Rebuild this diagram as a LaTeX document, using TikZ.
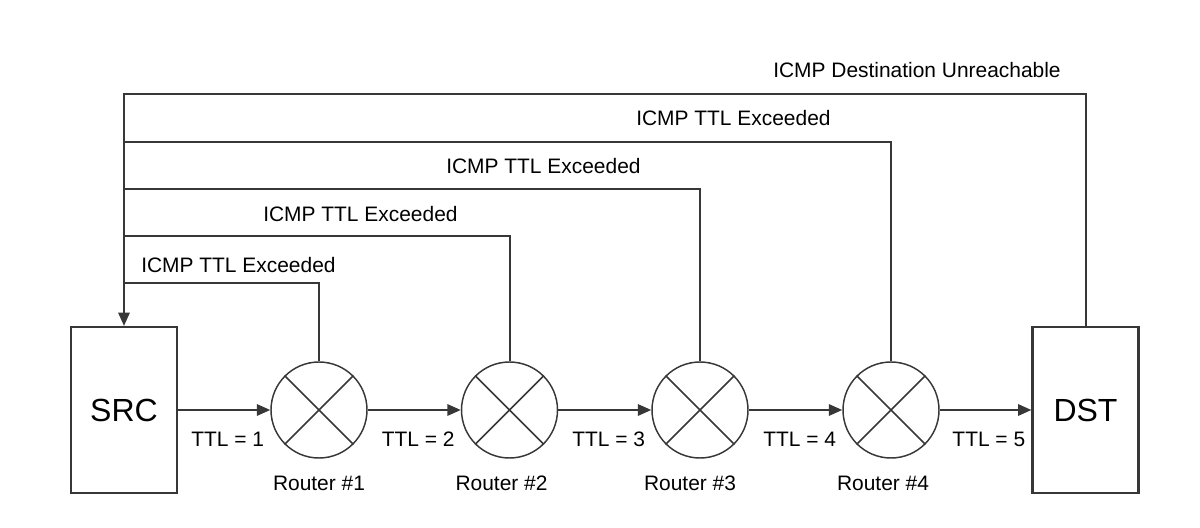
\documentclass[tikz,border=0pt]{standalone}
\usepackage{fontspec}
\setmainfont{Liberation Sans}
\usetikzlibrary{arrows.meta,calc,positioning}
\definecolor{linegray}{RGB}{55,55,55}
\tikzset{
  host/.style={draw=linegray, line width=1.6pt, minimum width=79.5pt, minimum height=124.5pt, inner sep=0pt, font=\fontsize{24}{28}\selectfont},
  router/.style={draw=linegray, circle, line width=1.1pt, minimum size=72pt, inner sep=0pt},
  hop/.style={draw=linegray, line width=1.5pt, -{Triangle[length=10pt,width=8.5pt]}},
  reply/.style={draw=linegray, line width=1.5pt},
  lbl/.style={font=\fontsize{15.7}{18}\selectfont, inner sep=0pt},
}

\begin{document}
\begin{tikzpicture}[x=0.75pt,y=0.75pt,yscale=-1]
\useasboundingbox (0,0) rectangle (1200,528);

%Shape: hosts
\node[host] (src) at (124,410) {SRC};
\node[host] (dst) at (1085.5,410) {DST};

%Shape: routers
\foreach \i/\x/\dx in {1/319/0,2/509.5/-8,3/700/-10,4/891/-8}{
  \node[router] (r\i) at (\x,410) {};
  \draw[linegray, line width=1.1pt] (r\i.45) -- (r\i.225) (r\i.135) -- (r\i.315);
  % Text Node
  \node[lbl, anchor=base] at ($(r\i.south)+(\dx,32)$) {Router \#\i};
  % Text Node
  \node[lbl, anchor=base east] at ($(r\i.west)+(-6,36)$) {TTL = \i};
}
% Text Node
\node[lbl, anchor=base east] at ($(dst.west)+(-6,36)$) {TTL = 5};

%Straight Lines: forward hops
\draw[hop] (src) -- (r1);
\foreach \a/\b in {r1/r2,r2/r3,r3/r4,r4/dst}
  \draw[hop] (\a) -- (\b);

%Straight Lines: replies
\foreach \i/\ly/\tx/\up in {1/283/141/11,2/236/263/15,3/188.7/446/15.5,4/141.5/636/15.5}{
  \draw[reply] (r\i.north) |- (src.north |- 0,\ly);
  % Text Node
  \node[lbl, anchor=base west] at (\tx,\ly-\up) {ICMP TTL Exceeded};
}
\draw[hop] (dst.north) |- (src.north |- 0,94) -- (src.north);
% Text Node
\node[lbl, anchor=base west] at (773,78) {ICMP Destination Unreachable};

\end{tikzpicture}
\end{document}
